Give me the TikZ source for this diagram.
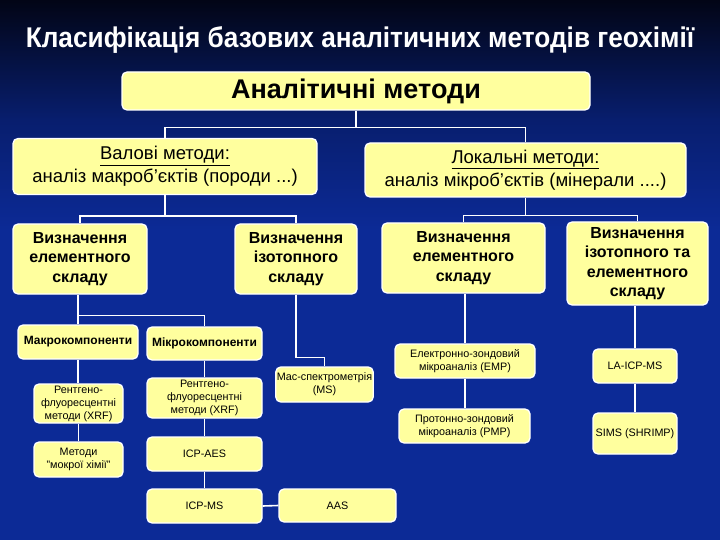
\documentclass[tikz,border=0pt]{standalone}
\usepackage{fontspec}
\setmainfont{Liberation Sans}
\newfontfamily\titlefont[FakeStretch=0.92]{Liberation Sans}
\usepackage{xcolor}
\usepackage{tikz}
\usetikzlibrary{calc, positioning}

\definecolor{fontop}{RGB}{2,5,22}
\definecolor{fonmid}{RGB}{8,30,110}
\definecolor{fonblue}{RGB}{12,42,150}
\definecolor{boxyellow}{RGB}{255,255,158}

\pgfdeclarelayer{fon}
\pgfdeclarelayer{linii}
\pgfsetlayers{fon,linii,main}

\tikzset{
    box/.style={draw=white, line width=1.3pt, fill=boxyellow, rounded corners=5pt,
        align=center, inner sep=1pt, text=black},
    conn/.style={draw=white, line width=1.6pt},
    txtbig/.style={font=\bfseries\fontsize{27}{30}\selectfont},
    txtmid/.style={font=\fontsize{18.5}{23}\selectfont},
    txtbold/.style={font=\bfseries\fontsize{16}{19.5}\selectfont},
    txtcomp/.style={font=\bfseries\fontsize{12}{14}\selectfont},
    txtsmall/.style={font=\fontsize{10.8}{13}\selectfont}
}

\begin{document}
\begin{tikzpicture}[x=1pt, y=-1pt]
    % Фон слайда
    \useasboundingbox (0,0) rectangle (720,540);
    \begin{pgfonlayer}{fon}
    \fill[fonblue] (0,0) rectangle (720,540);
    \shade[top color=fontop, bottom color=fonmid] (0,0) rectangle (720,120);
    \shade[top color=fonmid, bottom color=fonblue] (0,120) rectangle (720,230);
    \end{pgfonlayer}

    % Заголовок
    \node[text=white, font=\titlefont\bfseries\fontsize{28.5}{30}\selectfont] (title) at (360,40)
        {Класифікація базових аналітичних методів геохімії};

    % Верхній рівень
    \node[box, txtbig, minimum width=468pt, minimum height=38pt] (an) at (356,91) {Аналітичні методи};

    % Валові та локальні методи
    \node[box, txtmid, minimum width=304pt, minimum height=56pt] (val) at (165,166.5)
        {\underline{Валові методи:}\\аналіз макроб’єктів (породи ...)};
    \node[box, txtmid, minimum width=321pt, minimum height=54pt] (lok) at (525.5,170)
        {\underline{Локальні методи:}\\аналіз мікроб’єктів (мінерали ....)};

    % Визначення складу
    \node[box, txtbold, minimum width=134pt, minimum height=70pt] (el1) at (80,259)
        {Визначення\\елементного\\складу};
    \node[box, txtbold, minimum width=122pt, minimum height=70pt] (iz1) at (296,259)
        {Визначення\\ізотопного\\складу};
    \node[box, txtbold, minimum width=163pt, minimum height=70pt] (el2) at (463.5,258)
        {Визначення\\елементного\\складу};
    \node[box, txtbold, minimum width=141pt, minimum height=83pt] (iz2) at (637.5,263.5)
        {Визначення\\ізотопного та\\елементного\\складу};

    % Макро- та мікрокомпоненти
    \node[box, txtcomp, minimum width=120pt, minimum height=34pt] (makro) at (78,342) {Макрокомпоненти};
    \node[box, txtcomp, minimum width=115pt, minimum height=33pt] (mikro) at (204.5,343.5) {Мікрокомпоненти};

    % Методи нижнього рівня
    \node[box, txtsmall, minimum width=89pt, minimum height=39pt] (xrf1) at (78.5,403.5)
        {Рентгено-\\флуоресцентні\\методи (XRF)};
    \node[box, txtsmall, minimum width=89pt, minimum height=35pt] (wet) at (78.5,459.5)
        {Методи\\"мокрої хімії"};
    \node[box, txtsmall, minimum width=115pt, minimum height=40pt] (xrf2) at (204.5,398)
        {Рентгено-\\флуоресцентні\\методи (XRF)};
    \node[box, txtsmall, minimum width=115pt, minimum height=34pt] (icpaes) at (204.5,454) {ICP-AES};
    \node[box, txtsmall, minimum width=115pt, minimum height=34pt] (icpms) at (204.5,506) {ICP-MS};
    \node[box, txtsmall, minimum width=117pt, minimum height=33pt] (aas) at (337.5,505.5) {AAS};
    \node[box, txtsmall, minimum width=95pt, minimum height=35pt] (ms) at (324.5,384.5)
        {Мас-спектрометрія\\(MS)};
    \node[box, txtsmall, minimum width=140pt, minimum height=34pt] (emp) at (465,361)
        {Електронно-зондовий\\мікроаналіз (EMP)};
    \node[box, txtsmall, minimum width=131pt, minimum height=34pt] (pmp) at (464.5,426)
        {Протонно-зондовий\\мікроаналіз (PMP)};
    \node[box, txtsmall, minimum width=84pt, minimum height=34pt] (la) at (635,366) {LA-ICP-MS};
    \node[box, txtsmall, minimum width=84pt, minimum height=41pt] (sims) at (635,433.5) {SIMS (SHRIMP)};

    % З'єднувальні лінії
    \begin{pgfonlayer}{linii}
    \draw[conn] (an.south) -- ++(0,17) coordinate (j1);
    \draw[conn] (val.north) |- (j1) -| (lok.north);
    \draw[conn] (val.south) -- ++(0,21) coordinate (j2);
    \draw[conn] (el1.north) |- (j2) -| (iz1.north);
    \draw[conn] (lok.south) -- ++(0,18) coordinate (j3);
    \draw[conn] (el2.north) |- (j3) -| (iz2.north);
    \draw[conn] (makro.north) -- (makro.north |- el1.south);
    \draw[conn] ($(makro.north)+(0,-9)$) -| (mikro.north);
    \draw[conn] (iz1.south) |- ($(ms.north)+(0,-9)$) -- (ms.north);
    \draw[conn] (makro.south) -- (makro.south |- xrf1.north);
    \draw[conn] (xrf1.south) -- (wet.north);
    \draw[conn] (mikro.south) -- (xrf2.north);
    \draw[conn] (xrf2.south) -- (icpaes.north);
    \draw[conn] (icpaes.south) -- (icpms.north);
    \draw[conn] (icpms.east) -- (aas.west);
    \draw[conn] (emp.north) -- (emp.north |- el2.south);
    \draw[conn] (emp.south) -- (emp.south |- pmp.north);
    \draw[conn] (la.north) -- (la.north |- iz2.south);
    \draw[conn] (la.south) -- (sims.north);
    \end{pgfonlayer}
\end{tikzpicture}
\end{document}
